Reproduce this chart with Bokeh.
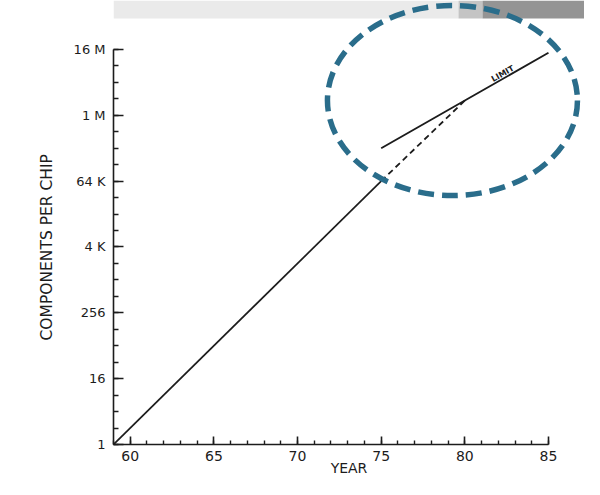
import math
from bokeh.plotting import figure
from bokeh.models import Range1d, FixedTicker, Title, BoxAnnotation
from bokeh.core.properties import value
from bokeh.embed import file_html
from bokeh.resources import INLINE

# ---- data ----
trend_years = [59, 75]
trend_components = [1, 65536]

extrap_years = [75, 80]
extrap_components = [65536, 1950000]

limit_years = [75, 80, 85]
limit_components = [262144, 1955000, 14600000]

x_major_ticks = [60, 65, 70, 75, 80, 85]
x_minor_ticks = list(range(59, 86))
y_major_ticks = [1, 16, 256, 4096, 65536, 1048576, 16777216]
y_major_labels = ["1", "16", "256", "4 K", "64 K", "1 M", "16 M"]
y_minor_ticks = [2 ** k for k in range(25)]

# ---- layout constants ----
W, H = 584, 479
LEFT, BOTTOM = 113, 35
PX_PER_YEAR = 16.73
PX_PER_DOUBLING = 16.46
frame_w = W - LEFT
frame_h = H - BOTTOM
x_end = 59 + frame_w / PX_PER_YEAR
y_end = 2 ** (frame_h / PX_PER_DOUBLING)

INK = "#1c1c1c"
FONT = "DejaVu Sans"

p = figure(width=W, height=H, x_range=Range1d(59, x_end), y_range=Range1d(1, y_end),
           y_axis_type="log", output_backend="svg", toolbar_location=None,
           min_border_left=LEFT, min_border_right=0, min_border_top=0,
           min_border_bottom=BOTTOM)
p.outline_line_color = None
p.xgrid.visible = False
p.ygrid.visible = False
p.background_fill_color = "white"
p.border_fill_color = "white"

# grey strip of the scanned page background along the top
band_bottom = 2 ** ((frame_h - 18) / PX_PER_DOUBLING)
band_split = 59 + (482 - LEFT) / PX_PER_YEAR
band_mid = 59 + (458 - LEFT) / PX_PER_YEAR
p.add_layout(BoxAnnotation(left=59, right=band_mid, bottom=band_bottom, top=y_end,
                           fill_color="#eaeaea", fill_alpha=1, line_color=None, level="underlay"))
p.add_layout(BoxAnnotation(left=band_mid, right=band_split, bottom=band_bottom, top=y_end,
                           fill_color="#c4c4c4", fill_alpha=1, line_color=None, level="underlay"))
p.add_layout(BoxAnnotation(left=band_split, right=x_end, bottom=band_bottom, top=y_end,
                           fill_color="#949494", fill_alpha=1, line_color=None, level="underlay"))

# x axis
xa = p.xaxis[0]
xa.bounds = (59, 85)
xa.ticker = FixedTicker(ticks=x_major_ticks, minor_ticks=x_minor_ticks)
xa.axis_line_color = INK
xa.axis_line_width = 1.6
xa.major_tick_line_color = INK
xa.major_tick_line_width = 1.6
xa.minor_tick_line_color = INK
xa.minor_tick_line_width = 1.4
xa.major_tick_in = 8
xa.major_tick_out = 0
xa.minor_tick_in = 4
xa.minor_tick_out = 0
xa.major_label_standoff = 6
xa.major_label_text_font = FONT
xa.major_label_text_font_size = "14px"
xa.major_label_text_color = INK
xa.axis_label = "YEAR"
xa.axis_label_text_font = FONT
xa.axis_label_text_font_size = "14px"
xa.axis_label_text_font_style = "normal"
xa.axis_label_text_color = INK
xa.axis_label_standoff = -4

# y axis
ya = p.yaxis[0]
ya.bounds = (1, 2 ** 24)
ya.ticker = FixedTicker(ticks=y_major_ticks, minor_ticks=y_minor_ticks)
ya.major_label_overrides = {t: lab for t, lab in zip(y_major_ticks, y_major_labels)}
ya.axis_line_color = INK
ya.axis_line_width = 1.6
ya.major_tick_line_color = INK
ya.major_tick_line_width = 1.6
ya.minor_tick_line_color = INK
ya.minor_tick_line_width = 1.4
ya.major_tick_in = 10
ya.major_tick_out = 0
ya.minor_tick_in = 5
ya.minor_tick_out = 0
ya.major_label_standoff = 8
ya.major_label_text_font = FONT
ya.major_label_text_font_size = "13px"
ya.major_label_text_color = INK

ytitle = Title(text="COMPONENTS PER CHIP", align="left", offset=104,
               text_font=FONT, text_font_size="15.5px", text_font_style="normal",
               text_color=INK, standoff=30)
p.add_layout(ytitle, "left")

# lines
p.line(trend_years, trend_components, line_color=INK, line_width=1.7)
p.line(extrap_years, extrap_components, line_color=INK, line_width=1.8, line_dash="6 4")
p.line(limit_years, limit_components, line_color=INK, line_width=1.9)

# LIMIT label along the limit line
lx = 82.4
slope_pow = (math.log2(limit_components[-1]) - math.log2(limit_components[0])) / (limit_years[-1] - limit_years[0])
ly = 2 ** (math.log2(limit_components[0]) + slope_pow * (lx - limit_years[0]))
ang = math.atan(slope_pow * PX_PER_DOUBLING / PX_PER_YEAR)
p.text(x=[lx], y=[ly], text=["LIMIT"], angle=ang, text_align="center", text_baseline="bottom",
       text_font=value(FONT), text_font_size="8px", text_font_style="bold", text_color=INK)

# highlight ellipse around the limit region
ELLIPSE_X, ELLIPSE_Y = 79.26, 2 ** 20.9
p.ellipse(x=[ELLIPSE_X], y=[ELLIPSE_Y], width=250, height=190,
          width_units="screen", height_units="screen",
          fill_color=None, line_color="#2a6d8b", line_width=5.5, line_dash="16 8")

open("out.html", "w").write(file_html(p, INLINE))
